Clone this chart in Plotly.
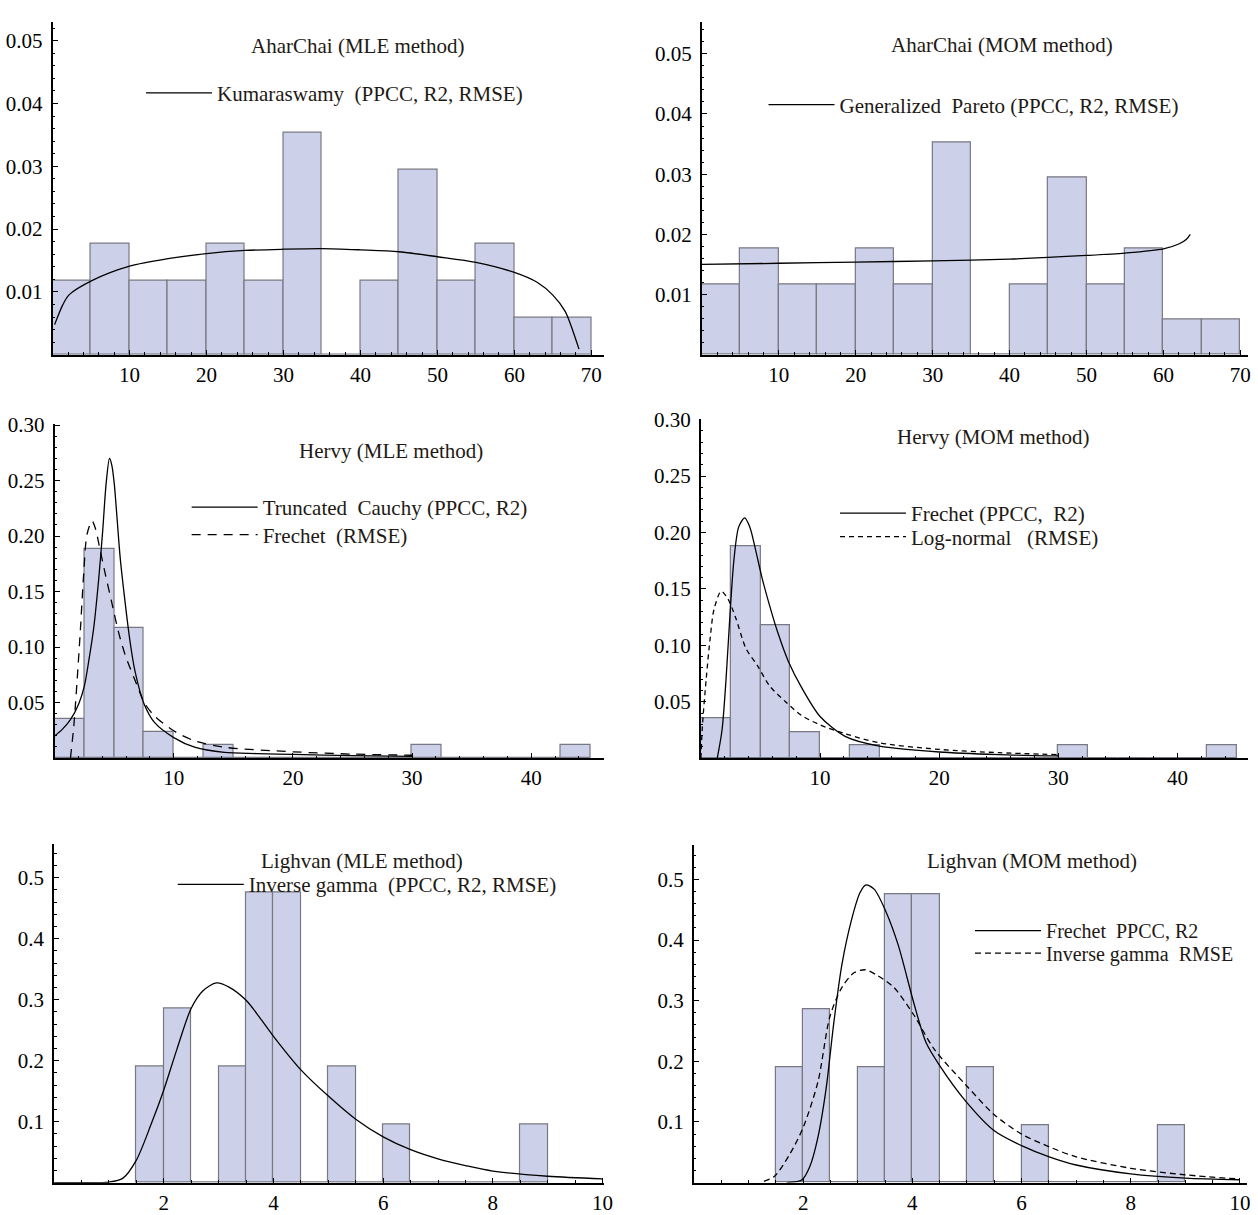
import plotly.graph_objects as go

W, H = 1258, 1215
FONT = "Liberation Serif"

# ---------------- data ----------------
# AharChai histogram (bin width 5)
ahar_bin_left = [0, 5, 10, 15, 20, 25, 30, 35, 40, 45, 50, 55, 60, 65]
ahar_density = [0.01176, 0.01765, 0.01176, 0.01176, 0.01765, 0.01176, 0.03529,
                0.0, 0.01176, 0.02941, 0.01176, 0.01765, 0.00588, 0.00588]
ahar_bin_width = 5

# Kumaraswamy (MLE) curve
kuma_x = [0.26, 1.3, 2.1, 5.1, 10, 15, 20, 25, 30, 35, 40, 45, 50, 55, 60, 63, 65, 66.6, 67.6, 68.4]
kuma_y = [0.0048, 0.0079, 0.0095, 0.0118, 0.0141, 0.0153, 0.0161, 0.0166, 0.0168, 0.0169,
          0.0167, 0.0164, 0.0156, 0.0147, 0.0131, 0.0115, 0.0095, 0.0069, 0.0038, 0.0009]

# Generalized Pareto (MOM) curve
gpar_x = [0, 10, 20, 30, 40, 50, 55, 60, 62, 63, 63.5]
gpar_y = [0.0150, 0.0152, 0.0154, 0.0156, 0.0159, 0.0165, 0.0169, 0.0176, 0.0184, 0.0192, 0.0200]

# Hervy histogram (bin width 2.5)
hervy_bin_left = [0, 2.5, 5, 7.5, 10, 12.5, 15, 17.5, 20, 22.5, 25, 27.5, 30, 32.5, 35, 37.5, 40, 42.5]
hervy_density = [0.0353, 0.1882, 0.1176, 0.0235, 0.0, 0.0118, 0.0, 0.0, 0.0, 0.0, 0.0, 0.0,
                 0.0118, 0.0, 0.0, 0.0, 0.0, 0.0118]
hervy_bin_width = 2.5

# Truncated Cauchy (MLE)
tcau_x = [0, 0.64, 1.33, 2.03, 2.5, 2.86, 3.28, 3.69, 4.03, 4.33, 4.61, 4.8, 5.0, 5.22, 5.5,
          5.92, 6.33, 6.75, 7.5, 8.42, 10.0, 11.75, 14.25, 17, 20, 25, 30]
tcau_y = [0.0199, 0.0258, 0.0346, 0.049, 0.065, 0.087, 0.117, 0.160, 0.204, 0.248, 0.270,
          0.264, 0.248, 0.219, 0.181, 0.140, 0.105, 0.078, 0.049, 0.0316, 0.0184, 0.0097,
          0.0050, 0.0040, 0.0032, 0.0022, 0.0015]

# Frechet (MLE, RMSE)
frm_x = [1.33, 1.61, 1.89, 2.17, 2.44, 2.72, 3.14, 3.42, 3.83, 4.25, 4.8, 5.36, 5.92, 6.75,
         7.58, 8.42, 10.03, 11.75, 14.25, 20, 25, 30]
frm_y = [0.0, 0.0287, 0.070, 0.1165, 0.166, 0.2015, 0.2138, 0.207, 0.187, 0.166, 0.140,
         0.1136, 0.093, 0.070, 0.049, 0.0375, 0.0243, 0.0155, 0.0097, 0.0056, 0.0035, 0.0025]

# Frechet (MOM, PPCC/R2)
fmo_x = [1.37, 1.77, 2.1, 2.43, 2.77, 3.17, 3.67, 4.1, 4.6, 5.1, 5.77, 6.43, 7.33, 8.43,
         10, 12.1, 15, 20, 25, 30]
fmo_y = [0.0, 0.025, 0.069, 0.126, 0.176, 0.205, 0.213, 0.205, 0.184, 0.161, 0.135, 0.112,
         0.086, 0.063, 0.037, 0.0194, 0.0107, 0.0055, 0.0032, 0.0020]

# Log-normal (MOM, RMSE)
lgn_x = [0.0, 0.1, 0.43, 0.77, 1.1, 1.7, 2.27, 2.93, 3.77, 4.77, 5.77, 7.1, 8.43, 10, 12.1,
         15, 20, 25, 30]
lgn_y = [0.0, 0.025, 0.069, 0.106, 0.132, 0.148, 0.141, 0.124, 0.0975, 0.0816, 0.064, 0.050,
         0.038, 0.0295, 0.0217, 0.0136, 0.0078, 0.0049, 0.0032]

# Lighvan histogram (bin width 0.5)
lig_bin_left = [1.5, 2.0, 2.5, 3.0, 3.5, 4.0, 4.5, 5.0, 5.5, 6.0, 6.5, 7.0, 7.5, 8.0, 8.5]
lig_density = [0.1905, 0.2857, 0.0, 0.1905, 0.4762, 0.4762, 0.0, 0.1905, 0.0, 0.0952,
               0.0, 0.0, 0.0, 0.0, 0.0952]
lig_bin_width = 0.5

# Inverse gamma (MLE)
igm_x = [0.0, 0.5, 1.0, 1.25, 1.5, 1.77, 2.0, 2.24, 2.5, 2.72, 2.96, 3.19, 3.5, 3.74, 4.0,
         4.5, 5.0, 5.5, 6.0, 6.5, 7.0, 7.5, 8.0, 9.0, 10.0]
igm_y = [0.0, 0.0, 0.001, 0.007, 0.037, 0.096, 0.152, 0.219, 0.286, 0.315, 0.3275, 0.3206,
         0.299, 0.272, 0.240, 0.185, 0.142, 0.104, 0.075, 0.054, 0.039, 0.028, 0.019, 0.0105, 0.0063]

# Frechet (MOM Lighvan, PPCC/R2)
flm_x = [1.7, 1.98, 2.12, 2.27, 2.42, 2.56, 2.71, 2.89, 3.04, 3.15, 3.30, 3.52, 3.74, 4.03,
         4.25, 4.5, 4.98, 5.5, 6.0, 6.52, 7.0, 8.0, 9.0, 10.0]
flm_y = [0.0, 0.0047, 0.026, 0.0747, 0.155, 0.263, 0.36, 0.435, 0.478, 0.491, 0.484, 0.446,
         0.392, 0.295, 0.231, 0.193, 0.134, 0.0855, 0.061, 0.042, 0.029, 0.0144, 0.0074, 0.0047]

# Inverse gamma (MOM Lighvan, RMSE)
ilm_x = [1.28, 1.47, 1.76, 2.0, 2.27, 2.49, 2.71, 2.93, 3.14, 3.37, 3.66, 4.03, 4.4, 4.98,
         5.5, 6.0, 6.52, 7.0, 8.0, 9.0, 10.0]
ilm_y = [0.002, 0.010, 0.0477, 0.091, 0.166, 0.274, 0.322, 0.346, 0.351, 0.341, 0.322, 0.276,
         0.220, 0.161, 0.112, 0.080, 0.0585, 0.0425, 0.0236, 0.0128, 0.0058]

# tick labels
ahar_xticks = [10, 20, 30, 40, 50, 60, 70]
ahar_yticks = [0.01, 0.02, 0.03, 0.04, 0.05]
ahar_yticktext = ["0.01", "0.02", "0.03", "0.04", "0.05"]
hervy_xticks = [10, 20, 30, 40]
hervy_yticks = [0.05, 0.10, 0.15, 0.20, 0.25, 0.30]
hervy_yticktext = ["0.05", "0.10", "0.15", "0.20", "0.25", "0.30"]
lig_xticks = [2, 4, 6, 8, 10]
lig_yticks = [0.1, 0.2, 0.3, 0.4, 0.5]
lig_yticktext = ["0.1", "0.2", "0.3", "0.4", "0.5"]

titles = ["AharChai (MLE method)", "AharChai (MOM method)", "Hervy (MLE method)",
          "Hervy (MOM method)", "Lighvan (MLE method)", "Lighvan (MOM method)"]

NB = "\u00a0"
legend_names = {
    "kuma": "Kumaraswamy" + NB + " (PPCC, R2, RMSE)",
    "gpar": "Generalized" + NB + " Pareto (PPCC, R2, RMSE)",
    "tcau": "Truncated" + NB + " Cauchy (PPCC, R2)",
    "frm": "Frechet" + NB + " (RMSE)",
    "fmo": "Frechet (PPCC," + NB + " R2)",
    "lgn": "Log-normal" + NB + NB + " (RMSE)",
    "igm": "Inverse gamma" + NB + " (PPCC, R2, RMSE)",
    "flm": "Frechet" + NB + " PPCC, R2",
    "ilm": "Inverse gamma" + NB + " RMSE",
}

# ---------------- figure ----------------
fig = go.Figure()

BAR_FILL = "rgb(204,209,233)"
BAR_EDGE = "rgb(120,120,132)"
LW = 1.3


def px_x(p):
    return p / W


def px_y(p):
    return 1 - p / H


def add_hist(lefts, dens, width, ax):
    fig.add_trace(go.Bar(x=lefts, y=dens, width=width, offset=0,
                         marker=dict(color=BAR_FILL, line=dict(color=BAR_EDGE, width=1.2)),
                         xaxis="x" + ax, yaxis="y" + ax, showlegend=False, hoverinfo="skip"))


def add_curve(xs, ys, ax, name, legend, dash="solid"):
    fig.add_trace(go.Scatter(x=xs, y=ys, mode="lines", name=name,
                             line=dict(color="black", width=LW, dash=dash, shape="spline", smoothing=0.8),
                             xaxis="x" + ax, yaxis="y" + ax, legend=legend, showlegend=True))


add_hist(ahar_bin_left, ahar_density, ahar_bin_width, "")
add_curve(kuma_x, kuma_y, "", legend_names["kuma"], "legend")
add_hist(ahar_bin_left, ahar_density, ahar_bin_width, "2")
add_curve(gpar_x, gpar_y, "2", legend_names["gpar"], "legend2")
add_hist(hervy_bin_left, hervy_density, hervy_bin_width, "3")
add_curve(tcau_x, tcau_y, "3", legend_names["tcau"], "legend3")
add_curve(frm_x, frm_y, "3", legend_names["frm"], "legend7", dash="9px,7px")
add_hist(hervy_bin_left, hervy_density, hervy_bin_width, "4")
add_curve(fmo_x, fmo_y, "4", legend_names["fmo"], "legend4")
add_curve(lgn_x, lgn_y, "4", legend_names["lgn"], "legend8", dash="5px,4px")
add_hist(lig_bin_left, lig_density, lig_bin_width, "5")
add_curve(igm_x, igm_y, "5", legend_names["igm"], "legend5")
add_hist(lig_bin_left, lig_density, lig_bin_width, "6")
add_curve(flm_x, flm_y, "6", legend_names["flm"], "legend6")
add_curve(ilm_x, ilm_y, "6", legend_names["ilm"], "legend9", dash="6px,4px")

TICKFONT = dict(family=FONT, size=21, color="black")


def xaxis_cfg(dom, rng, ticks, minor):
    return dict(domain=dom, range=rng, tickvals=ticks, ticktext=[str(t) for t in ticks],
                showline=True, linecolor="black", linewidth=2, ticks="inside", ticklen=5,
                tickcolor="black", tickwidth=1, showgrid=False, zeroline=False,
                tickfont=TICKFONT, fixedrange=True,
                minor=dict(dtick=minor, ticks="inside", ticklen=2.5, tickcolor="black", showgrid=False))


def yaxis_cfg(dom, rng, ticks, text, minor, anchor):
    return dict(domain=dom, range=rng, tickvals=ticks, ticktext=text, anchor=anchor,
                showline=True, linecolor="black", linewidth=2, ticks="inside", ticklen=5,
                tickcolor="black", tickwidth=1, showgrid=False, zeroline=False,
                tickfont=TICKFONT, fixedrange=True, ticklabelstandoff=4,
                minor=dict(dtick=minor, ticks="inside", ticklen=2.5, tickcolor="black", showgrid=False))


# panel geometry (pixels)
geo = {
    "": dict(x0=53, x1=608, y0=351, y1=11, xr=[0, 71.6], yr=[0, 0.053]),
    "2": dict(x0=707, x1=1257, y0=351, y1=11.7, xr=[0, 71.0], yr=[0, 0.0552]),
    "3": dict(x0=55, x1=608, y0=762.7, y1=421.7, xr=[0, 46.08], yr=[0, 0.301]),
    "4": dict(x0=706, x1=1257, y0=762.9, y1=416.7, xr=[0, 45.92], yr=[0, 0.3005]),
    "5": dict(x0=54.5, x1=608, y0=1196.25, y1=850, xr=[0, 10.02], yr=[0, 0.5562]),
    "6": dict(x0=699, x1=1256, y0=1196.2, y1=851.7, xr=[0, 10.13], yr=[0, 0.5565]),
}
tick_sets = {
    "": (ahar_xticks, 2, ahar_yticks, ahar_yticktext, 0.002),
    "2": (ahar_xticks, 2, ahar_yticks, ahar_yticktext, 0.002),
    "3": (hervy_xticks, 2, hervy_yticks, hervy_yticktext, 0.01),
    "4": (hervy_xticks, 2, hervy_yticks, hervy_yticktext, 0.01),
    "5": (lig_xticks, 0.5, lig_yticks, lig_yticktext, 0.02),
    "6": (lig_xticks, 0.5, lig_yticks, lig_yticktext, 0.02),
}

layout = {}
for ax, g in geo.items():
    xt, xm, yt, ytt, ym = tick_sets[ax]
    layout["xaxis" + ax] = xaxis_cfg([px_x(g["x0"]), px_x(g["x1"])], g["xr"], xt, xm)
    layout["xaxis" + ax]["anchor"] = "y" + ax
    layout["yaxis" + ax] = yaxis_cfg([px_y(g["y0"]), px_y(g["y1"])], g["yr"], yt, ytt, ym, "x" + ax)

# titles (data coordinates of each panel)
title_pos = [("", 39.6, 0.0492), ("2", 39.0, 0.0514), ("3", 28.2, 0.2766),
             ("4", 24.55, 0.2846), ("5", 5.61, 0.5278), ("6", 6.19, 0.5297)]
annotations = []
for (ax, tx, ty), t in zip(title_pos, titles):
    annotations.append(dict(text=t, x=tx, y=ty, xref="x" + ax, yref="y" + ax, showarrow=False,
                            xanchor="center", yanchor="middle",
                            font=dict(family=FONT, size=21, color="rgb(30,25,20)")))

ITEMW = 66
# (text start px, entry centre px, font size)
leg_pos = {"legend": (215, 84, 21), "legend2": (842, 96, 21),
           "legend3": (261, 507, 21), "legend7": (261, 535, 21),
           "legend4": (914, 513, 21), "legend8": (914, 537, 21),
           "legend5": (247, 892, 21),
           "legend6": (1050, 939, 20), "legend9": (1050, 962, 20)}
for name, (tx, ty, fs) in leg_pos.items():
    layout[name] = dict(x=px_x(tx - ITEMW - 7), y=px_y(ty), xanchor="left", yanchor="middle",
                        xref="paper", yref="paper", bgcolor="rgba(0,0,0,0)", borderwidth=0,
                        font=dict(family=FONT, size=fs, color="rgb(30,25,20)"),
                        itemwidth=ITEMW, tracegroupgap=0)

fig.update_layout(**layout)
fig.update_layout(width=W, height=H, margin=dict(l=0, r=0, t=0, b=0),
                  plot_bgcolor="white", paper_bgcolor="white", bargap=0,
                  annotations=annotations, font=dict(family=FONT, color="black"),
                  hovermode=False)

fig.write_html("out.html")
